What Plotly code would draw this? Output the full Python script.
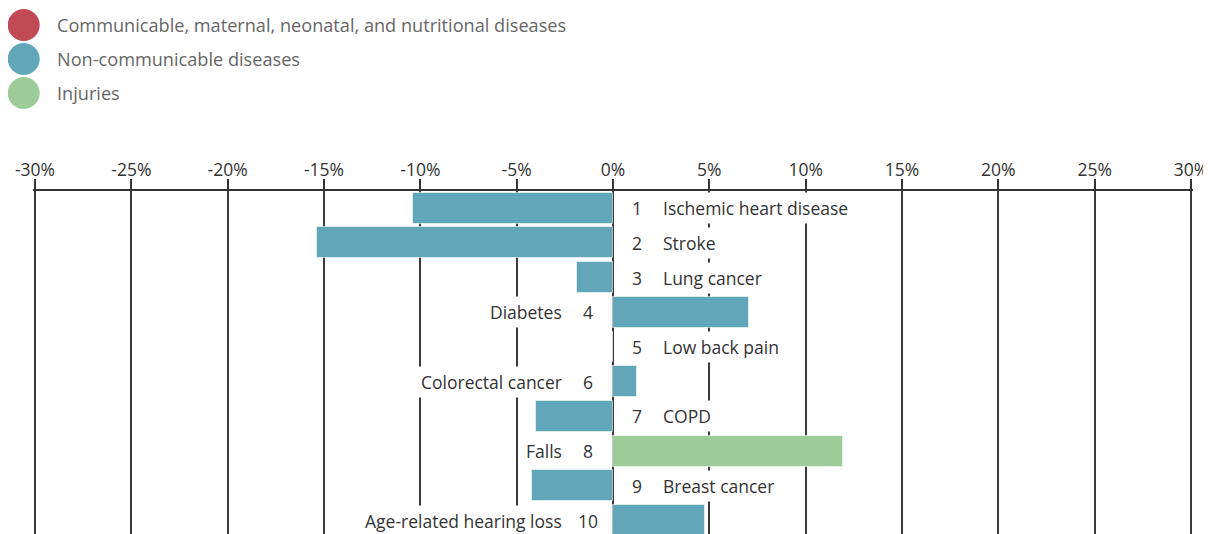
import plotly.graph_objects as go

# ---- data ----
ranks = [1, 2, 3, 4, 5, 6, 7, 8, 9, 10]
causes = ["Ischemic heart disease", "Stroke", "Lung cancer", "Diabetes", "Low back pain",
          "Colorectal cancer", "COPD", "Falls", "Breast cancer", "Age-related hearing loss"]
pct_change = [-10.38, -15.37, -1.88, 7.07, 0.0, 1.25, -4.0, 11.93, -4.21, 4.77]
groups = ["Non-communicable diseases"] * 7 + ["Injuries"] + ["Non-communicable diseases"] * 2

legend_names = ["Communicable, maternal, neonatal, and nutritional diseases",
                "Non-communicable diseases", "Injuries"]
legend_colors = ["#c24a55", "#62a6ba", "#9dcc9a"]

tick_vals = [-30, -25, -20, -15, -10, -5, 0, 5, 10, 15, 20, 25, 30]
tick_labels = ["-30%", "-25%", "-20%", "-15%", "-10%", "-5%", "0%",
               "5%", "10%", "15%", "20%", "25%", "30%"]

color_of = dict(zip(legend_names, legend_colors))
FONT = "Open Sans"
LBL = 17.5

# page body has an 8px margin; figure geometry compensates for it
W, H = 1211, 526
ML, MR, MT, MB = 25, 26, 183, 0
PW, PH = W - ML - MR, H - MT - MB
X_RANGE = [-30.104, 30.104]   # slightly wider so the edge gridlines are drawn
Y_RANGE = [0.504 + PH / 34.7, 0.504]

fig = go.Figure()
fig.add_trace(go.Bar(
    x=pct_change, y=ranks, orientation="h", width=0.89,
    marker=dict(color=[color_of[g] for g in groups],
                line=dict(color="rgba(255,255,255,0.55)", width=1)),
    hoverinfo="skip", showlegend=False,
))

annotations = []
for r, name, v in zip(ranks, causes, pct_change):
    left = v > 0
    annotations.append(dict(x=0, y=r, xref="x", yref="y", text=str(r), showarrow=False,
                            xanchor="center", xshift=-25 if left else 24,
                            bgcolor="white", borderpad=3,
                            font=dict(family=FONT, size=LBL, color="#333")))
    annotations.append(dict(x=0, y=r, xref="x", yref="y", text=name, showarrow=False,
                            xanchor="right" if left else "left",
                            xshift=-47 if left else 46,
                            bgcolor="white", borderpad=3,
                            font=dict(family=FONT, size=LBL, color="#333")))

# legend built from shapes + annotations (large circular swatches)
shapes = []
for i, (nm, col) in enumerate(zip(legend_names, legend_colors)):
    ypix = 17 + i * 34
    yp = (H - MB - ypix) / PH
    shapes.append(dict(type="circle", xref="paper", yref="paper",
                       xsizemode="pixel", ysizemode="pixel",
                       xanchor=(15.7 - ML) / PW, yanchor=yp,
                       x0=-16, x1=16, y0=-16, y1=16,
                       fillcolor=col, line=dict(width=0)))
    annotations.append(dict(x=(47 - ML) / PW, y=yp, xref="paper", yref="paper",
                            text=nm, showarrow=False, xanchor="left", yanchor="middle",
                            font=dict(family=FONT, size=18.15, color="#666")))

fig.update_layout(
    width=W, height=H,
    margin=dict(l=ML, r=MR, t=MT, b=MB),
    paper_bgcolor="white", plot_bgcolor="white",
    bargap=0, showlegend=False,
    annotations=annotations, shapes=shapes,
    xaxis=dict(side="top", range=X_RANGE, tickvals=tick_vals, ticktext=tick_labels,
               showgrid=True, gridcolor="#3a3a3a", gridwidth=2, zeroline=False,
               showline=True, linecolor="#333", linewidth=2,
               ticks="outside", ticklen=10, tickwidth=2, tickcolor="#333",
               ticklabelstandoff=-4, ticklabeloverflow="allow",
               tickfont=dict(family=FONT, size=LBL, color="#333"), fixedrange=True),
    yaxis=dict(range=Y_RANGE, showgrid=False, zeroline=False, showticklabels=False,
               ticks="", showline=False, fixedrange=True),
)

fig.write_html("out.html", config={"displayModeBar": False})
